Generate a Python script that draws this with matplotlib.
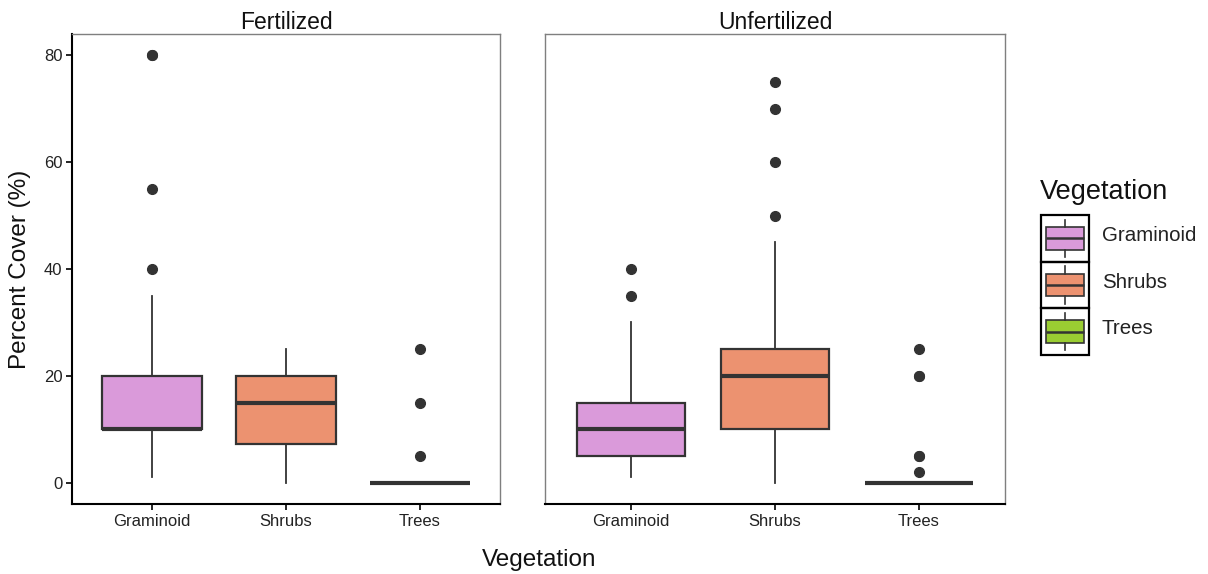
import matplotlib
matplotlib.use("Agg")
import matplotlib.pyplot as plt
from matplotlib.patches import Rectangle

plt.rcParams['font.family'] = ['Liberation Sans', 'DejaVu Sans']

# ---- data -------------------------------------------------------------
categories = ["Graminoid", "Shrubs", "Trees"]
facets = ["Fertilized", "Unfertilized"]
colors = ["#DA9ADA", "#EC9270", "#9ACD32"]

# Fertilized plots: box-plot summaries per vegetation type
fert_whislo = [1, 0, 0]
fert_q1 = [10, 7.25, 0]
fert_med = [10, 15, 0]
fert_q3 = [20, 20, 0]
fert_whishi = [35, 25, 0]
fert_outliers = [[40, 55, 80, 80], [], [5, 15, 25]]

# Unfertilized plots
unfert_whislo = [1, 0, 0]
unfert_q1 = [5, 10, 0]
unfert_med = [10, 20, 0]
unfert_q3 = [15, 25, 0]
unfert_whishi = [30, 45, 0]
unfert_outliers = [[35, 40], [50, 60, 70, 75], [2, 5, 5, 20, 20, 25]]

y_ticks = [0, 20, 40, 60, 80]

# ---- figure -----------------------------------------------------------
W, H = 1208, 574
fig = plt.figure(figsize=(W / 100, H / 100), dpi=100)

ax1 = fig.add_axes([72 / W, 1 - 504 / H, 428 / W, 470 / H])
ax2 = fig.add_axes([545 / W, 1 - 504 / H, 460 / W, 470 / H])

dark = "#333333"


def draw_panel(ax, whislo, q1, med, q3, whishi, outliers, title):
    stats = []
    for lo, a, m, b, hi, fl in zip(whislo, q1, med, q3, whishi, outliers):
        stats.append(dict(whislo=lo, q1=a, med=m, q3=b, whishi=hi, fliers=fl))
    bp = ax.bxp(
        stats, positions=[1, 2, 3], widths=0.75, patch_artist=True,
        showcaps=False,
        boxprops=dict(edgecolor=dark, linewidth=1.6),
        medianprops=dict(color=dark, linewidth=3.0, solid_capstyle="butt"),
        whiskerprops=dict(color=dark, linewidth=1.3),
        flierprops=dict(marker="o", markerfacecolor=dark,
                        markeredgecolor=dark, markersize=7),
    )
    for patch, c in zip(bp["boxes"], colors):
        patch.set_facecolor(c)
    ax.set_xlim(0.4, 3.6)
    ax.set_ylim(-4, 84)
    ax.set_xticks([1, 2, 3])
    ax.set_xticklabels(categories)
    ax.set_yticks(y_ticks)
    ax.tick_params(axis="both", length=4, width=1.2, color="black",
                   labelsize=12, labelcolor="#222222", pad=3)
    for side in ("top", "right", "left"):
        ax.spines[side].set_color("#7f7f7f")
        ax.spines[side].set_linewidth(1.0)
    ax.spines["bottom"].set_color("black")
    ax.spines["bottom"].set_linewidth(1.5)
    ax.set_title(title, fontsize=16.5, pad=1, color="#111111")


draw_panel(ax1, fert_whislo, fert_q1, fert_med, fert_q3, fert_whishi,
           fert_outliers, facets[0])
draw_panel(ax2, unfert_whislo, unfert_q1, unfert_med, unfert_q3, unfert_whishi,
           unfert_outliers, facets[1])

ax1.spines["left"].set_color("black")
ax1.spines["left"].set_linewidth(1.5)
ax2.tick_params(axis="y", left=False, labelleft=False)

fig.text(20 / W, 1 - 269 / H, "Percent Cover (%)", rotation=90,
         ha="center", va="center", fontsize=17.5, color="#111111")
fig.text(539 / W, 1 - 560 / H, "Vegetation", ha="center", va="center",
         fontsize=17.5, color="#111111")

# ---- legend -----------------------------------------------------------
fig.text(1040 / W, 1 - 192 / H, "Vegetation", ha="left", va="center",
         fontsize=19.5, color="#111111")
lax = fig.add_axes([1041 / W, 1 - 355 / H, 48 / W, 140 / H])
lax.set_xlim(0, 1)
lax.set_ylim(0, 3)
lax.axis("off")
for i, (name, c) in enumerate(zip(categories, colors)):
    y0 = 2 - i
    lax.add_patch(Rectangle((0, y0), 1, 1, fill=False, edgecolor="black",
                            linewidth=1.6, clip_on=False))
    lax.plot([0.5, 0.5], [y0 + 0.1, y0 + 0.26], color=dark, lw=1.2)
    lax.plot([0.5, 0.5], [y0 + 0.74, y0 + 0.9], color=dark, lw=1.2)
    lax.add_patch(Rectangle((0.1, y0 + 0.26), 0.8, 0.48, facecolor=c,
                            edgecolor=dark, linewidth=1.2))
    lax.plot([0.1, 0.9], [y0 + 0.5, y0 + 0.5], color=dark, lw=1.8,
             solid_capstyle="butt")
    fig.text(1102 / W, 1 - (355 - 140 * (y0 + 0.5) / 3 - 3) / H, name,
             ha="left", va="center", fontsize=14.8, color="#222222")

fig.savefig("out.png", dpi=100)
